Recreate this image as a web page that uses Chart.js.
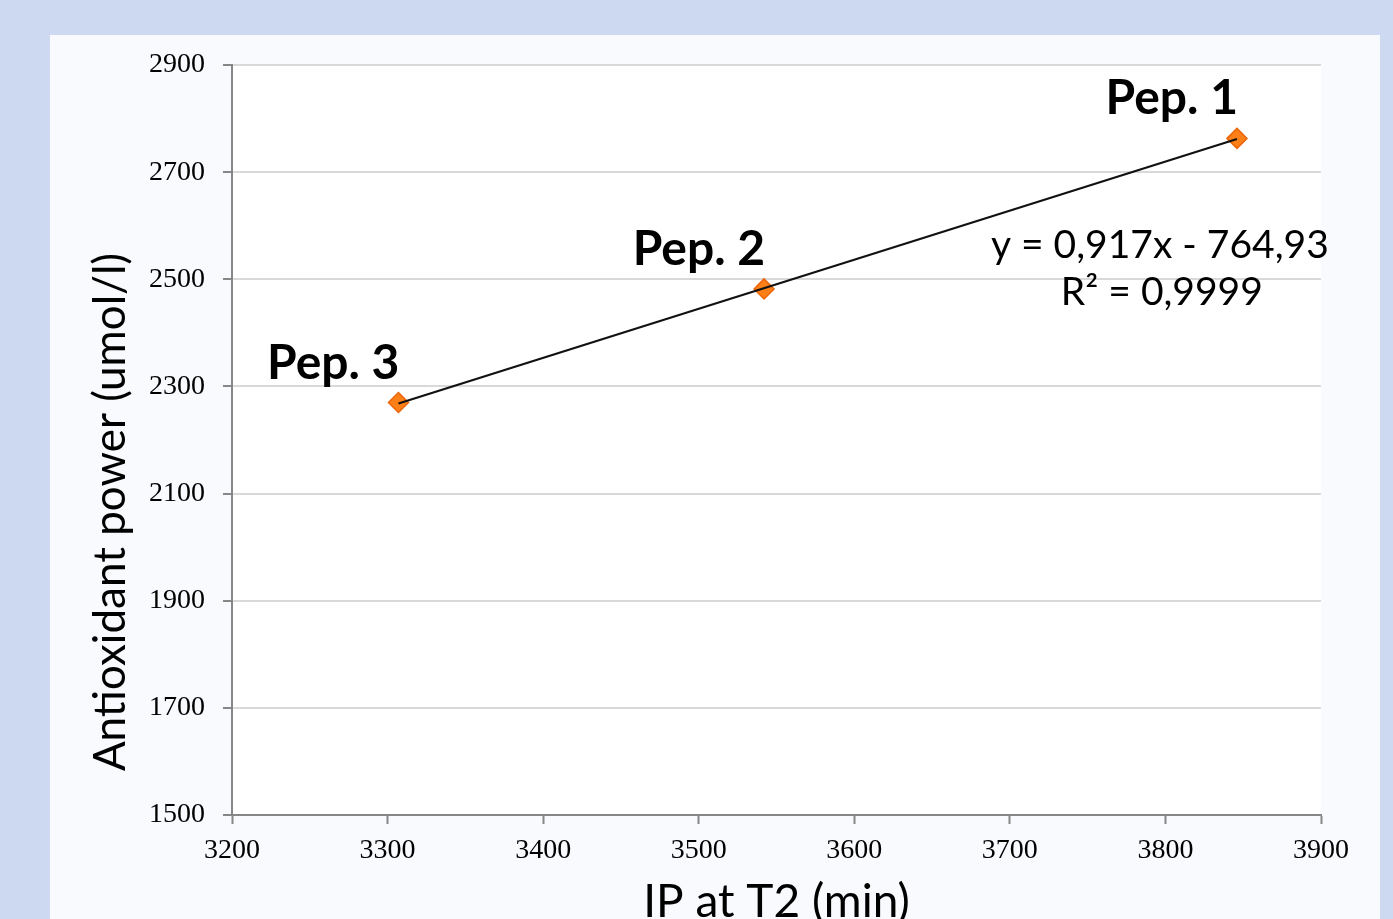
<!DOCTYPE html>
<html><head><meta charset="utf-8">
<script src="https://cdn.jsdelivr.net/npm/chart.js@4/dist/chart.umd.min.js"></script>
<style>html,body{margin:0;padding:0;background:#cdd9f0;overflow:hidden}canvas{display:block}</style>
</head><body><canvas id="c" width="1393" height="919"></canvas>
<script>
// ---- data ----
const peptideNames = ['Pep. 3', 'Pep. 2', 'Pep. 1'];
const ipAtT2 = [3307, 3542, 3846];              // minutes
const antioxidantPower = [2270, 2482, 2763];    // umol/l
const trendX = [3307, 3846];
const trendY = [2268, 2762];
const trendEquation = 'y = 0,917x - 764,93';
const trendR2 = 'R\u00B2 = 0,9999';
const xTickValues = [3200, 3300, 3400, 3500, 3600, 3700, 3800, 3900];
const yTickValues = [1500, 1700, 1900, 2100, 2300, 2500, 2700, 2900];
const xTitle = 'IP at T2 (min)';
const yTitle = 'Antioxidant power (umol/l)';

const SANS = 'Lato, "Open Sans", sans-serif';
const SERIF = '"Liberation Serif", "DejaVu Serif", serif';

const panelPlugin = {
  id: 'panel',
  beforeDraw(chart) {
    const {ctx, chartArea: a} = chart;
    ctx.save();
    ctx.fillStyle = '#cdd9f0';
    ctx.fillRect(0, 0, chart.width, chart.height);
    ctx.fillStyle = '#f9fafd';
    ctx.fillRect(50, 35, 1330, chart.height - 35);
    ctx.fillStyle = '#ffffff';
    ctx.fillRect(a.left, a.top, a.right - a.left, a.bottom - a.top);
    ctx.restore();
  }
};

const textPlugin = {
  id: 'texts',
  afterDraw(chart) {
    const {ctx, chartArea: a, scales: {x, y}} = chart;
    ctx.save();
    ctx.fillStyle = '#000';
    // point labels
    ctx.font = 'bold 48px ' + SANS;
    ctx.textAlign = 'right';
    ctx.textBaseline = 'alphabetic';
    for (let i = 0; i < peptideNames.length; i++) {
      const px = x.getPixelForValue(ipAtT2[i]);
      const py = y.getPixelForValue(antioxidantPower[i]);
      ctx.fillText(peptideNames[i], px + 1, py - 24);
    }
    // trendline equation
    ctx.font = '39px ' + SANS;
    ctx.textAlign = 'center';
    const ex = a.left + (a.right - a.left) * 0.852;
    ctx.fillText(trendEquation, ex, a.top + 193);
    ctx.fillText(trendR2, ex + 2, a.top + 240);
    // axis titles
    ctx.font = '44px ' + SANS;
    ctx.save();
    ctx.translate(a.left - 107, a.top + 447);
    ctx.rotate(-Math.PI / 2);
    ctx.textAlign = 'center';
    ctx.textBaseline = 'alphabetic';
    ctx.fillText(yTitle, 0, 0);
    ctx.restore();
    ctx.font = '46px ' + SANS;
    ctx.textAlign = 'center';
    ctx.fillText(xTitle, (a.left + a.right) / 2, a.bottom + 102);
    ctx.restore();
  }
};

const plainNumber = v => String(v);

new Chart(document.getElementById('c'), {
  type: 'scatter',
  data: {
    datasets: [
      {
        type: 'line',
        label: 'Trendline',
        data: trendX.map((v, i) => ({x: v, y: trendY[i]})),
        borderColor: '#111111',
        borderWidth: 2.2,
        pointRadius: 0,
        fill: false,
        tension: 0
      },
      {
        label: 'Peptides',
        data: ipAtT2.map((v, i) => ({x: v, y: antioxidantPower[i]})),
        pointStyle: 'rectRot',
        pointRadius: 10,
        pointBackgroundColor: '#fd7f17',
        pointBorderColor: '#e9660b',
        pointBorderWidth: 1.5
      }
    ]
  },
  options: {
    responsive: false,
    devicePixelRatio: 1,
    animation: false,
    events: [],
    layout: {padding: {top: 65, right: 72, left: 0, bottom: 0}},
    plugins: {legend: {display: false}, tooltip: {enabled: false}, title: {display: false}},
    scales: {
      x: {
        type: 'linear',
        min: 3200, max: 3900,
        afterBuildTicks: s => { s.ticks = xTickValues.map(v => ({value: v})); },
        afterFit: s => { s.height = 104; },
        ticks: {font: {family: SERIF, size: 28}, color: '#000', padding: 10, callback: plainNumber},
        grid: {drawOnChartArea: false, drawTicks: true, tickLength: 9, tickColor: '#878787', tickWidth: 2},
        border: {display: true, color: '#878787', width: 2}
      },
      y: {
        type: 'linear',
        min: 1500, max: 2900,
        afterBuildTicks: s => { s.ticks = yTickValues.map(v => ({value: v})); },
        afterFit: s => { s.width = 232; },
        ticks: {font: {family: SERIF, size: 28}, color: '#000', padding: 18, callback: plainNumber},
        grid: {color: '#d9d9d9', lineWidth: 2, drawTicks: true, tickLength: 9, tickColor: '#878787', tickWidth: 2},
        border: {display: true, color: '#878787', width: 2}
      }
    }
  },
  plugins: [panelPlugin, textPlugin]
});
</script>
</body></html>
